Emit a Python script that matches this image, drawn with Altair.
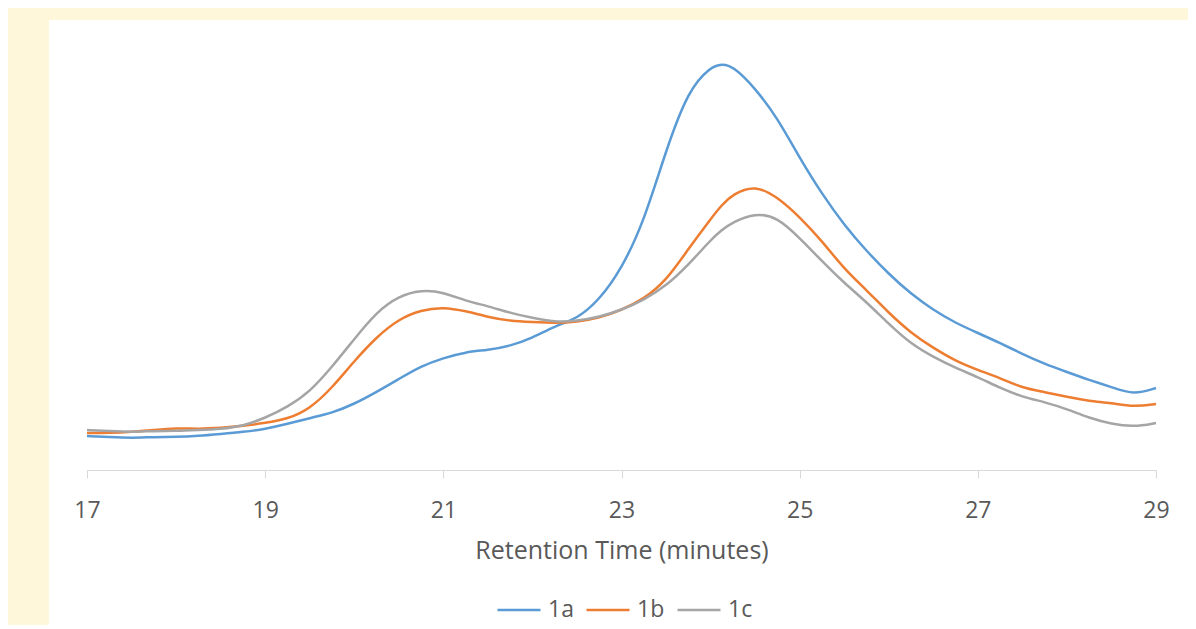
import altair as alt
import pandas as pd

# Retention time grid (minutes)
times = [17, 17.25, 17.5, 17.75, 18, 18.25, 18.5, 18.75, 19, 19.25, 19.5, 19.75,
         20, 20.25, 20.5, 20.75, 21, 21.25, 21.5, 21.75, 22, 22.25, 22.5, 22.75,
         23, 23.25, 23.5, 23.75, 24, 24.125, 24.25, 24.5, 24.75, 25, 25.25, 25.5, 25.75,
         26, 26.25, 26.5, 26.75, 27, 27.25, 27.5, 27.75, 28, 28.25, 28.5, 28.75, 29]

# Detector signal (arbitrary units)
sample_1a = [34, 33, 32, 33, 33, 34, 36, 38, 41, 46, 52, 57,
             66, 78, 91, 104, 112, 118, 120, 124, 132, 144, 151, 170,
             201, 248, 320, 380, 403, 406, 404, 382, 352, 312, 276, 245, 219,
             196, 176, 160, 147, 137, 127, 116, 106, 98, 90, 83, 75, 82]
sample_1b = [37, 37, 38, 40, 42, 41, 42, 44, 47, 51, 61, 82,
             109, 133, 151, 160, 163, 159, 153, 149, 148, 147, 148, 152,
             160, 171, 189, 221, 251, 265, 276, 285, 273, 253, 229, 201, 180,
             157, 137, 122, 109, 100, 92, 82, 78, 73, 69, 67, 63, 66]
sample_1c = [40, 39, 38, 39, 39, 40, 41, 44, 52, 63, 78, 103,
             131, 158, 174, 180, 178, 169, 164, 157, 152, 148, 149, 153,
             160, 170, 184, 205, 230, 240, 248, 257, 253, 232, 209, 187, 168,
             146, 126, 113, 102, 93, 82, 73, 68, 61, 52, 46, 43, 47]

series_names = ["1a", "1b", "1c"]
series_colors = ["#5B9BD5", "#ED7D31", "#A5A5A5"]
x_ticks = [17, 19, 21, 23, 25, 27, 29]

rows = []
for name, vals in zip(series_names, [sample_1a, sample_1b, sample_1c]):
    for t, v in zip(times, vals):
        rows.append({"time": t, "signal": v, "sample": name})
df = pd.DataFrame(rows)

FONT = "Open Sans"
TXT = "#595959"

panel = alt.Chart(pd.DataFrame({"k": [0]})).mark_rect(color="white").encode(
    x=alt.value(-38), x2=alt.value(1106), y=alt.value(0), y2=alt.value(630)
)

lines = alt.Chart(df).mark_line(interpolate="basis", strokeWidth=2.5).encode(
    x=alt.X(
        "time:Q",
        scale=alt.Scale(domain=[17, 29], nice=False, zero=False),
        axis=alt.Axis(
            values=x_ticks,
            title="Retention Time (minutes)",
            grid=False,
            zindex=1,
            labelFlush=False,
            domainColor="#D9D9D9",
            tickColor="#D9D9D9",
            tickSize=8,
            labelFont=FONT,
            labelFontSize=23,
            labelColor=TXT,
            labelBaseline="alphabetic",
            labelPadding=39,
            titleFont=FONT,
            titleFontSize=25,
            titleFontWeight="normal",
            titleColor=TXT,
            titleBaseline="alphabetic",
            titleY=88,
        ),
    ),
    y=alt.Y("signal:Q", scale=alt.Scale(domain=[0, 450]), axis=None),
    color=alt.Color(
        "sample:N",
        scale=alt.Scale(domain=series_names, range=series_colors),
        legend=alt.Legend(
            title=None,
            orient="none",
            direction="horizontal",
            legendX=409,
            legendY=567,
            zindex=1,
            symbolType="stroke",
            symbolSize=1849,
            symbolStrokeWidth=2.5,
            labelFont=FONT,
            labelFontSize=23,
            labelColor=TXT,
            labelOffset=6,
            columnPadding=7,
        ),
    ),
)

chart = alt.layer(panel, lines).properties(
    width=1069,
    height=450,
    autosize=alt.AutoSizeParams(type="none"),
    padding={"left": 79, "top": 12, "right": 32, "bottom": 155},
    background="#FFF7D9",
).configure_view(stroke=None)

chart.save("out.html", embed_options={"renderer": "svg", "actions": False})
